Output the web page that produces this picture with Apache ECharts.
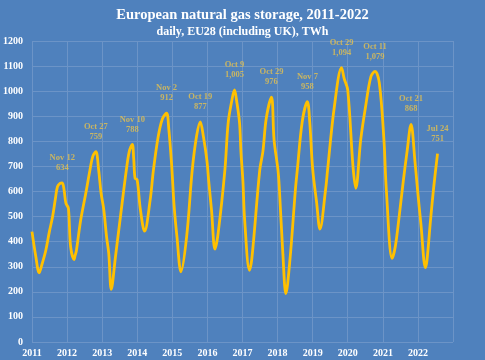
<!DOCTYPE html>
<html><head><meta charset="utf-8">
<script src="https://cdn.jsdelivr.net/npm/echarts@6/dist/echarts.min.js"></script>
<style>html,body{margin:0;padding:0;background:#4F81BD}#c{width:485px;height:360px}</style>
</head><body><div id="c"></div>
<script>
const dates = [
'2011-01-01','2011-02-10','2011-03-17','2011-04-15','2011-05-25','2011-07-01','2011-08-03','2011-09-01','2011-09-23','2011-10-20','2011-11-12','2011-12-01','2011-12-20',
'2012-01-15','2012-02-07','2012-03-14','2012-03-25','2012-04-07','2012-05-22','2012-07-14','2012-08-26','2012-09-25','2012-10-27','2012-11-25','2012-12-20',
'2013-01-18','2013-02-15','2013-03-10','2013-04-05','2013-05-19','2013-07-27','2013-09-09','2013-10-10','2013-11-10','2013-11-25','2013-12-09','2013-12-31',
'2014-02-03','2014-03-18','2014-05-15','2014-06-18','2014-08-07','2014-09-20','2014-11-02','2014-11-25','2014-12-24',
'2015-01-20','2015-02-18','2015-04-01','2015-05-30','2015-07-27','2015-09-10','2015-10-19','2015-11-20','2015-12-28',
'2016-01-15','2016-02-13','2016-03-20','2016-04-22','2016-07-01','2016-08-04','2016-09-10','2016-10-09','2016-11-01','2016-12-01','2016-12-15',
'2017-01-05','2017-01-23','2017-03-14','2017-04-08','2017-06-29','2017-08-01','2017-09-05','2017-10-29','2017-11-25',
'2018-01-05','2018-01-20','2018-02-25','2018-03-28','2018-05-10','2018-07-05','2018-07-25','2018-09-15','2018-11-07','2018-12-01',
'2019-01-01','2019-02-10','2019-03-18','2019-05-15','2019-06-05','2019-08-15','2019-10-29','2019-11-25',
'2020-01-01','2020-02-25','2020-03-25','2020-05-15','2020-07-05','2020-08-30','2020-10-11','2020-11-25',
'2021-01-12','2021-02-06','2021-04-07','2021-05-10','2021-06-15','2021-08-01','2021-09-10','2021-10-21','2021-12-01','2021-12-28',
'2022-02-01','2022-03-20','2022-04-05','2022-05-12','2022-06-15','2022-07-24'
];
const storage = [
440,340,276,310,366,440,499,570,619,632,634,606,553,
533,380,329,345,364,486,593,685,740,759,685,594,
526,420,353,210,340,553,685,760,788,730,653,646,
526,442,566,685,819,890,912,850,710,
540,420,280,420,685,820,877,820,720,
640,526,370,434,685,873,960,1005,960,873,760,
640,486,286,333,685,760,892,976,806,
685,606,350,193,330,606,685,880,958,880,
690,560,450,606,685,939,1094,1050,
1005,699,613,806,939,1059,1079,1032,
806,606,333,380,486,640,760,868,720,606,
470,297,326,486,620,751
];
const peakDates = ['2011-11-12','2012-10-27','2013-11-10','2014-11-02','2015-10-19','2016-10-09','2017-10-29','2018-11-07','2019-10-29','2020-10-11','2021-10-21','2022-07-24'];
const peakNames = ['Nov 12','Oct 27','Nov 10','Nov 2','Oct 19','Oct 9','Oct 29','Nov 7','Oct 29','Oct 11','Oct 21','Jul 24'];
const peakValues = [634,759,788,912,877,1005,976,958,1094,1079,868,751];
const yTicks = [0,100,200,300,400,500,600,700,800,900,1000,1100,1200];

const serif = "'Liberation Serif','DejaVu Serif',serif";
const chart = echarts.init(document.getElementById('c'));
chart.setOption({
  backgroundColor:'#4F81BD',
  animation:false,
  title:{
    text:'European natural gas storage, 2011-2022',
    subtext:'daily, EU28 (including UK), TWh',
    left:'center', top:3, itemGap:3,
    textStyle:{color:'#FFFFFF',fontFamily:serif,fontWeight:'bold',fontSize:14.5},
    subtextStyle:{color:'#FFFFFF',fontFamily:serif,fontWeight:'bold',fontSize:12}
  },
  grid:{left:31,right:32,top:41,bottom:18,containLabel:false},
  xAxis:{
    type:'time', min:'2011-01-01', max:'2023-01-01',
    minInterval:365*86400000, maxInterval:366*86400000,
    axisLine:{show:false}, axisTick:{show:false},
    axisLabel:{color:'#FFFFFF',fontFamily:serif,fontWeight:'bold',fontSize:10,margin:6,
      formatter:'{yyyy}', showMaxLabel:false, hideOverlap:false},
    splitLine:{show:true,lineStyle:{color:'#6C94C7',width:1}}
  },
  yAxis:{
    type:'value', min:yTicks[0], max:yTicks[yTicks.length-1], interval:100,
    axisLine:{show:false}, axisTick:{show:false},
    axisLabel:{color:'#FFFFFF',fontFamily:serif,fontWeight:'bold',fontSize:10,margin:9,
      formatter:v=>String(v)},
    splitLine:{show:true,lineStyle:{color:'#6C94C7',width:1}}
  },
  series:[
    {type:'line', data:dates.map((d,i)=>[d,storage[i]]), showSymbol:false, smooth:0.35,
     lineStyle:{color:'#FFC000',width:2.8}, z:3},
    {type:'scatter', data:peakDates.map((d,i)=>({value:[d,peakValues[i]],name:peakNames[i]})),
     symbolSize:0, z:4,
     label:{show:true, position:'top', distance:10, color:'#E6C24E', fontFamily:serif, fontWeight:'bold',
       fontSize:8.5, lineHeight:10,
       formatter:p=>p.name+'\n'+p.value[1].toLocaleString('en-US')}}
  ]
});
</script></body></html>
